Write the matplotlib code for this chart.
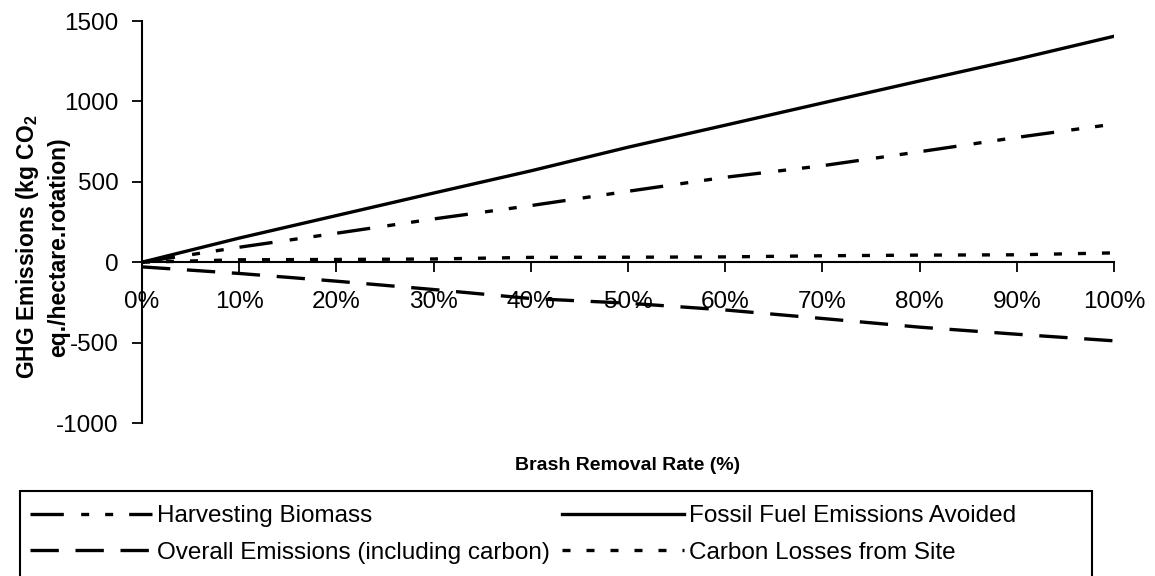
import matplotlib
matplotlib.use("Agg")
import matplotlib.pyplot as plt
from matplotlib.patches import Rectangle

plt.rcParams['font.family'] = ['Liberation Sans', 'DejaVu Sans']
plt.rcParams['axes.unicode_minus'] = False
plt.rcParams['mathtext.fontset'] = 'custom'
plt.rcParams['mathtext.rm'] = 'Liberation Sans:bold'
plt.rcParams['mathtext.bf'] = 'Liberation Sans:bold'

# Data
removal_rate = [0.0, 0.1, 0.2, 0.3, 0.4, 0.5, 0.6, 0.7, 0.8, 0.9, 1.0]
harvesting_biomass = [0, 93, 180, 269, 352, 441, 528, 600, 687, 776, 859]
fossil_fuel_avoided = [0, 150, 290, 430, 568, 715, 852, 990, 1127, 1262, 1405]
overall_emissions = [-29, -70, -118, -170, -226, -255, -297, -350, -404, -448, -489]
carbon_losses = [0, 15, 17, 20, 30, 31, 33, 40, 44, 46, 58]

xtick_vals = [0.0, 0.1, 0.2, 0.3, 0.4, 0.5, 0.6, 0.7, 0.8, 0.9, 1.0]
xtick_labels = ["0%", "10%", "20%", "30%", "40%", "50%", "60%", "70%", "80%", "90%", "100%"]
ytick_vals = [-1000, -500, 0, 500, 1000, 1500]

W, H = 1155, 576
fig = plt.figure(figsize=(W / 100, H / 100), dpi=100)
ax = fig.add_axes([142 / W, 1 - 423 / H, (1114 - 142) / W, (423 - 21) / H])

lw = 2.4
l1, = ax.plot(removal_rate, harvesting_biomass, color='black', lw=lw,
              dashes=(10, 5.2, 2.4, 4.8, 2.4, 4.8), label='Harvesting Biomass')
l2, = ax.plot(removal_rate, fossil_fuel_avoided, color='black', lw=lw,
              label='Fossil Fuel Emissions Avoided')
l3, = ax.plot(removal_rate, overall_emissions, color='black', lw=lw,
              dashes=(8.5, 5.0), label='Overall Emissions (including carbon)')
l4, = ax.plot(removal_rate, carbon_losses, color='black', lw=lw,
              dashes=(2.4, 4.8), label='Carbon Losses from Site')

ax.set_xlim(0, 1)
ax.set_ylim(-1000, 1500)
ax.spines['top'].set_visible(False)
ax.spines['right'].set_visible(False)
ax.spines['bottom'].set_position(('data', 0))
ax.spines['bottom'].set_linewidth(1.5)
ax.spines['left'].set_linewidth(1.5)

ax.set_xticks(xtick_vals)
ax.set_xticklabels(xtick_labels)
ax.set_yticks(ytick_vals)
ax.set_yticklabels([str(v) for v in ytick_vals])
ax.tick_params(axis='x', direction='out', length=7, width=1.3, pad=14, labelsize=17.5)
ax.tick_params(axis='y', direction='out', length=7, width=1.3, pad=10, labelsize=17.5)

fig.text(628 / W, 1 - 465 / H, 'Brash Removal Rate (%)', ha='center', va='center',
         fontsize=14, fontweight='bold')
fig.text(42 / W, 1 - 247 / H, 'GHG Emissions (kg CO$_2$\neq./hectare.rotation)',
         ha='center', va='center', rotation=90, fontsize=16.5, fontweight='bold',
         multialignment='center', linespacing=1.3)

# legend frame (extends past the bottom edge like the reference)
fig.patches.append(Rectangle((20 / W, -0.05), (1092 - 20) / W, (1 - 491 / H) + 0.05,
                             transform=fig.transFigure, fill=False,
                             edgecolor='black', linewidth=1.5, figure=fig))

leg = fig.legend(handles=[l1, l3, l2, l4], ncol=2,
                 loc='upper left', bbox_to_anchor=(30 / W, 1 - 505 / H),
                 bbox_transform=fig.transFigure, fontsize=17.5, frameon=False,
                 handlelength=5.0, handletextpad=0.23,
                 borderpad=0.0, labelspacing=0.6, borderaxespad=0, columnspacing=0.5)

fig.savefig('out.png', dpi=100)
